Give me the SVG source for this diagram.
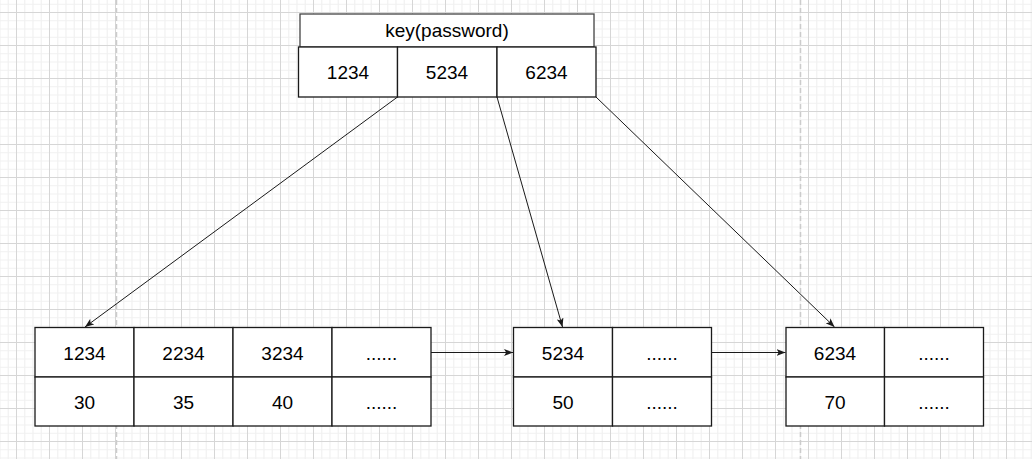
<svg xmlns="http://www.w3.org/2000/svg" width="1032" height="459" viewBox="0 0 1032 459">
<defs>
<pattern id="grid" x="16" y="12" width="33" height="33" patternUnits="userSpaceOnUse">
<path d="M8.75 0V33M17 0V33M25.25 0V33M0 8.75H33M0 17H33M0 25.25H33" stroke="#f1f1f1" stroke-width="1.2" fill="none"/>
<path d="M0.5 0V33M0 0.5H33" stroke="#d6d6d6" stroke-width="1" fill="none"/>
</pattern>
<marker id="arr" viewBox="0 0 9 7" refX="9" refY="3.5" markerWidth="9" markerHeight="7" markerUnits="userSpaceOnUse" orient="auto">
<path d="M0,0 L9,3.5 L0,7 L2.2,3.5 Z" fill="#1a1a1a"/>
</marker>
</defs>
<style>
.cell{fill:#ffffff;stroke:#1a1a1a;stroke-width:1.3}
.hdr{fill:#ffffff;stroke:#444444;stroke-width:1.3}
.t{font-family:"Liberation Sans",Arial,sans-serif;font-size:19px;fill:#000000;text-anchor:middle}
.edge{stroke:#1a1a1a;stroke-width:1;fill:none;marker-end:url(#arr)}
.page{stroke:#cccccc;stroke-width:1.5;stroke-dasharray:5 3;fill:none}
</style>
<rect x="0" y="0" width="1032" height="459" fill="#ffffff"/>
<rect x="0" y="0" width="1032" height="459" fill="url(#grid)"/>
<path class="page" d="M116.5 0V459M800.5 0V459"/>

<g id="connectors">
<path class="edge" d="M397.5 97L85 327"/>
<path class="edge" d="M497 97L562.5 327"/>
<path class="edge" d="M596 97L834.5 327"/>
<path class="edge" d="M431 352.5H513"/>
<path class="edge" d="M712 352.5H785.5"/>
</g>

<g id="node-root">
<rect class="hdr" x="300" y="14" width="294" height="33"/>
<text class="t" x="447" y="37">key(password)</text>
<rect class="cell" x="298.5" y="47" width="99" height="50"/>
<rect class="cell" x="397.5" y="47" width="99.5" height="50"/>
<rect class="cell" x="497" y="47" width="99" height="50"/>
<text class="t" x="348" y="78.5">1234</text>
<text class="t" x="447" y="78.5">5234</text>
<text class="t" x="546.5" y="78.5">6234</text>
</g>

<g id="node-leaf1">
<rect class="cell" x="35" y="327.5" width="99" height="49.5"/>
<rect class="cell" x="134" y="327.5" width="99" height="49.5"/>
<rect class="cell" x="233" y="327.5" width="99" height="49.5"/>
<rect class="cell" x="332" y="327.5" width="99" height="49.5"/>
<rect class="cell" x="35" y="377" width="99" height="49"/>
<rect class="cell" x="134" y="377" width="99" height="49"/>
<rect class="cell" x="233" y="377" width="99" height="49"/>
<rect class="cell" x="332" y="377" width="99" height="49"/>
<text class="t" x="84.5" y="359.5">1234</text>
<text class="t" x="183.5" y="359.5">2234</text>
<text class="t" x="282.5" y="359.5">3234</text>
<text class="t" x="381.5" y="359.5">......</text>
<text class="t" x="84.5" y="408.5">30</text>
<text class="t" x="183.5" y="408.5">35</text>
<text class="t" x="282.5" y="408.5">40</text>
<text class="t" x="381.5" y="408.5">......</text>
</g>

<g id="node-leaf2">
<rect class="cell" x="513.5" y="327.5" width="99" height="49.5"/>
<rect class="cell" x="612.5" y="327.5" width="99" height="49.5"/>
<rect class="cell" x="513.5" y="377" width="99" height="49"/>
<rect class="cell" x="612.5" y="377" width="99" height="49"/>
<text class="t" x="563" y="359.5">5234</text>
<text class="t" x="662" y="359.5">......</text>
<text class="t" x="563" y="408.5">50</text>
<text class="t" x="662" y="408.5">......</text>
</g>

<g id="node-leaf3">
<rect class="cell" x="786" y="327.5" width="98.5" height="49.5"/>
<rect class="cell" x="884.5" y="327.5" width="99" height="49.5"/>
<rect class="cell" x="786" y="377" width="98.5" height="49"/>
<rect class="cell" x="884.5" y="377" width="99" height="49"/>
<text class="t" x="835" y="359.5">6234</text>
<text class="t" x="934" y="359.5">......</text>
<text class="t" x="835" y="408.5">70</text>
<text class="t" x="934" y="408.5">......</text>
</g>
</svg>
